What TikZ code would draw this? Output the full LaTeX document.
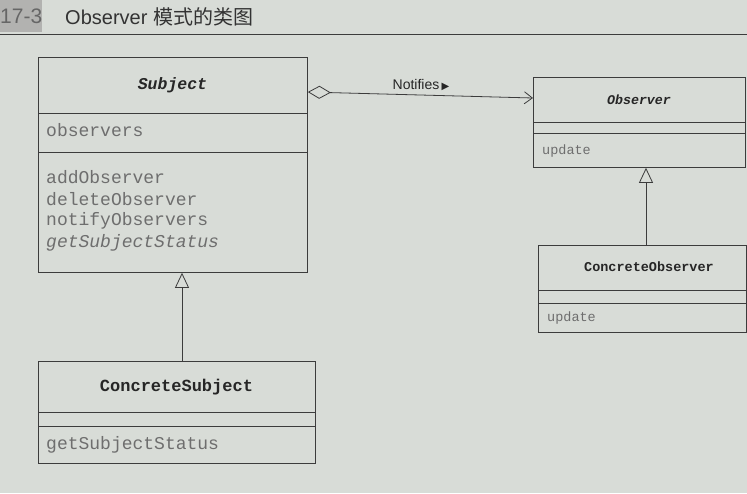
\documentclass[tikz,border=0pt]{standalone}
\usepackage{fontspec}
\setmainfont{Liberation Sans}
\setmonofont{Liberation Mono}
\newfontfamily\cjk{Noto Sans CJK SC}
\newfontfamily\djv{DejaVu Sans}
\usetikzlibrary{arrows.meta}
\definecolor{paper}{RGB}{216,220,215}
\definecolor{ink}{RGB}{60,60,60}
\definecolor{soft}{RGB}{110,110,110}
\definecolor{tagbg}{RGB}{178,178,176}
\begin{document}
\begin{tikzpicture}[x=1pt,y=-1pt,
  cls/.style={draw=ink, line width=0.8pt, rectangle, inner sep=0pt, anchor=north west},
  sep/.style={draw=ink, line width=0.8pt},
  cname/.style={font=\ttfamily\bfseries, text=black!85, inner sep=0pt},
  member/.style={font=\ttfamily, text=soft, anchor=west, inner sep=0pt},
  big/.style={font=\ttfamily\fontsize{18}{20}\selectfont},
  bigit/.style={font=\ttfamily\itshape\fontsize{18}{20}\selectfont},
  small/.style={font=\ttfamily\fontsize{13.5}{15}\selectfont},
  inh/.style={draw=ink, line width=0.8pt, -{Triangle[open,length=15pt,width=14pt]}},
  agg/.style={draw=ink, line width=0.8pt, {Diamond[open,length=23pt,width=13pt]}-{Straight Barb[length=8pt,width=12pt]}}
]
\fill[paper] (0,0) rectangle (747,493);
\useasboundingbox (0,0) rectangle (747,493);

% header
\node[fill=tagbg, minimum width=40pt, minimum height=32pt, inner sep=0pt, anchor=north west, text=black!60, font=\fontsize{21}{24}\selectfont] (tag) at (0,0) {17-3};
\node[anchor=west, inner sep=0pt, text=black!80, font=\fontsize{20}{24}\selectfont] (title) at (65,17) {Observer {\cjk 模式的类图}};
\coordinate (rl) at (0,34);
\coordinate (rr) at (747,34);
\draw[ink, line width=0.9pt] (rl) -- (rr);

% Subject
\node[cls, minimum width=269pt, minimum height=215pt] (subj) at (38,57) {};
\draw[sep] (38,113) -- (307,113);
\draw[sep] (38,152) -- (307,152);
\node[cname, font=\ttfamily\bfseries\itshape\fontsize{16.5}{18}\selectfont] (subjn) at (172.5,85) {Subject};
\node[member, big] (obsattr) at (46,130) {observers};
\node[member, big] (m1) at (46,177) {addObserver};
\node[member, big] (m2) at (46,199) {deleteObserver};
\node[member, big] (m3) at (46,221) {notifyObservers};
\node[member, bigit] (m4) at (46,243) {getSubjectStatus};

% ConcreteSubject
\node[cls, minimum width=277pt, minimum height=102pt] (csubj) at (38,361) {};
\draw[sep] (38,412) -- (315,412);
\draw[sep] (38,426) -- (315,426);
\node[cname, font=\ttfamily\bfseries\fontsize{17}{19}\selectfont] (csubjn) at (176.5,387) {ConcreteSubject};
\node[member, big] (cm1) at (46,445) {getSubjectStatus};

% Observer
\node[cls, minimum width=212pt, minimum height=90pt] (obs) at (533,77) {};
\draw[sep] (533,122) -- (745,122);
\draw[sep] (533,133) -- (745,133);
\node[cname, font=\ttfamily\bfseries\itshape\fontsize{13.3}{15}\selectfont] (obsn) at (639,100) {Observer};
\node[member, small] (om1) at (542,151) {update};

% ConcreteObserver
\node[cls, minimum width=208pt, minimum height=87pt] (cobs) at (538,245) {};
\draw[sep] (538,290) -- (746,290);
\draw[sep] (538,303) -- (746,303);
\node[cname, font=\ttfamily\bfseries\fontsize{13.5}{15}\selectfont] (cobsn) at (649,267) {ConcreteObserver};
\node[member, small] (com1) at (547,318) {update};

% connectors
\coordinate (ixl) at (182,0);
\coordinate (ixr) at (646,0);
\draw[inh] (ixl |- csubj.north) -- (ixl |- subj.south);
\draw[inh] (ixr |- cobs.north) -- (ixr |- obs.south);
\draw[agg] ([yshift=-35pt]subj.north east) -- ([yshift=-21pt]obs.north west);
\node[anchor=south, inner sep=0pt, font=\fontsize{14}{16}\selectfont, text=black!85] (notif) at (421,91) {Notifies\,{\djv\fontsize{10}{12}\selectfont ▶}};
\end{tikzpicture}
\end{document}
